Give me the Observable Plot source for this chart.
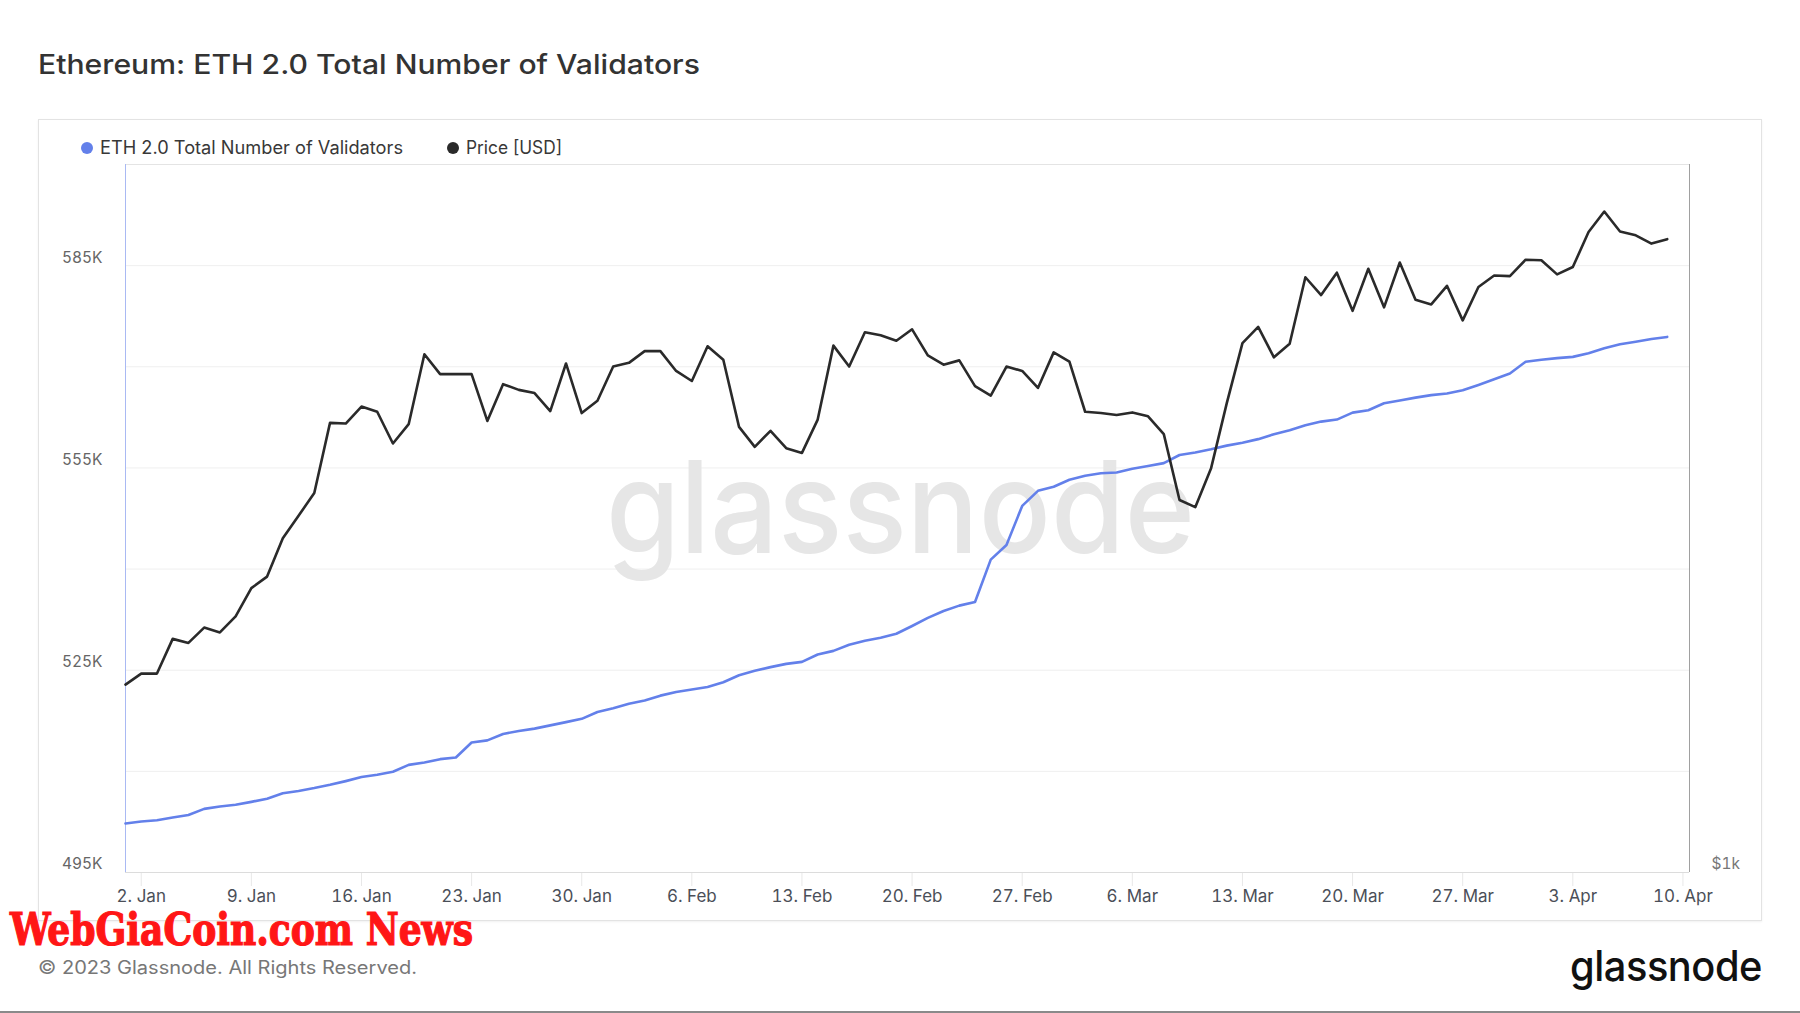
<!DOCTYPE html>
<html><head><meta charset="utf-8">
<script src="https://cdn.jsdelivr.net/npm/d3@7"></script>
<script src="https://cdn.jsdelivr.net/npm/@observablehq/plot@0.6"></script>
<style>
html,body{margin:0;padding:0;background:#fff;}
#page{position:relative;width:1800px;height:1013px;overflow:hidden;font-family:Inter,"Noto Sans",sans-serif;background:#fff;}
#panel{position:absolute;left:38px;top:119px;width:1722px;height:800px;border:1px solid #e3e3e3;box-shadow:0 1px 2px rgba(0,0,0,0.06);}
#chart{position:absolute;left:0;top:0;}
.txt{position:absolute;white-space:nowrap;line-height:1;transform-origin:0 50%;}
#title{left:38px;top:51px;font-size:27px;font-weight:500;color:#333;}
.legend{top:139px;font-size:18px;color:#383838;display:flex;align-items:center;}
.dot{width:12px;height:12px;border-radius:50%;display:inline-block;margin-right:7px;}
.ltxt{display:inline-block;transform-origin:0 50%;}
#copy{left:38px;top:959px;font-size:18px;color:#777;}
#logo{left:1570px;top:945px;font-size:42px;font-weight:500;color:#111;letter-spacing:-0.5px;}
#wgc{left:10px;top:912px;line-height:0.8;font-family:"DejaVu Serif Condensed","DejaVu Serif",serif;font-weight:bold;font-size:45px;color:#ff1616;-webkit-text-stroke:1.2px #ff1616;}
#bottomline{position:absolute;left:0;top:1011px;width:1800px;height:2px;background:#8a8a8a;}
</style>
</head><body>
<div id="page">
  <div id="panel"></div>
  <div id="chart"></div>
  <div id="title" class="txt"></div>
  <div id="leg1" class="txt legend" style="left:81px"><span class="dot" style="background:#6380ea"></span><span id="leg1t" class="ltxt"></span></div>
  <div id="leg2" class="txt legend" style="left:447px"><span class="dot" style="background:#2a2a2a"></span><span id="leg2t" class="ltxt"></span></div>
  <div id="wgc" class="txt">WebGiaCoin.com News</div>
  <div id="copy" class="txt">© 2023 Glassnode. All Rights Reserved.</div>
  <div id="logo" class="txt">glassnode</div>
  <div id="bottomline"></div>
</div>
<script>
// ---- data ----
const titleText = "Ethereum: ETH 2.0 Total Number of Validators";
const seriesNames = ["ETH 2.0 Total Number of Validators", "Price [USD]"];
const startDate = "2023-01-01";
const endDate = "2023-04-10T10:00Z";

const validators = [
  // Jan
  502270, 502570, 502750, 503170, 503530, 504440, 504800, 505040, 505470, 505950,
  506740, 507100, 507520, 508000, 508550, 509150, 509510, 509935, 510960, 511320,
  511810, 512050, 514280, 514590, 515550, 515975, 516340, 516820, 517300, 517790, 518810,
  // Feb
  519360, 520020, 520500, 521230, 521770, 522130, 522500, 523220, 524250, 524910,
  525460, 525940, 526240, 527330, 527870, 528780, 529380, 529810, 530410, 531560,
  532760, 533790, 534580, 535120, 541400, 543570, 549370, 551600,
  // Mar
  552210, 553240, 553840, 554200, 554320, 554870, 555290, 555710, 556920, 557280,
  557760, 558310, 558730, 559270, 560000, 560600, 561330, 561870, 562170, 563200,
  563560, 564590, 565010, 565430, 565800, 566040, 566520, 567310, 568150, 569000, 570750,
  // Apr
  571050, 571290, 571470, 572020, 572740, 573340, 573710, 574130, 574430
];

const prices = [
  // Jan
  1202, 1215, 1215, 1257, 1252, 1271, 1265, 1285, 1321, 1336,
  1387, 1418, 1450, 1553, 1552, 1578, 1570, 1522, 1551, 1661,
  1629, 1629, 1629, 1556, 1613, 1604, 1599, 1571, 1646, 1568, 1587,
  // Feb
  1641, 1647, 1666, 1666, 1634, 1618, 1674, 1652, 1547, 1517,
  1541, 1515, 1508, 1558, 1675, 1641, 1697, 1692, 1683, 1702,
  1659, 1644, 1651, 1610, 1595, 1641, 1634, 1607,
  // Mar
  1664, 1649, 1570, 1568, 1565, 1569, 1563, 1536, 1440, 1430,
  1485, 1583, 1679, 1706, 1656, 1678, 1791, 1760, 1799, 1733,
  1806, 1739, 1817, 1752, 1744, 1776, 1717, 1774, 1794, 1793, 1822,
  // Apr
  1821, 1796, 1809, 1872, 1910, 1873, 1866, 1851, 1859
];

const yDomain = [495000, 600000];
const yGridTicks = [495000, 510000, 525000, 540000, 555000, 570000, 585000, 600000];
const yLabelTicks = [495000, 525000, 555000, 585000];
const priceDomain = [1000, 2000];       // log scale of the right axis
const priceTicks = [1000];
const priceTickLabels = ["$1k"];
const xTickDates = ["2023-01-02","2023-01-09","2023-01-16","2023-01-23","2023-01-30","2023-02-06",
  "2023-02-13","2023-02-20","2023-02-27","2023-03-06","2023-03-13","2023-03-20","2023-03-27",
  "2023-04-03","2023-04-10"];
const monthNames = ["Jan","Feb","Mar","Apr","May","Jun","Jul","Aug","Sep","Oct","Nov","Dec"];

// ---- build ----
const colors = {validators: "#6380ea", price: "#2a2a2a"};
const t0 = new Date(startDate + "T00:00Z");
const xDomain = [t0, new Date(endDate)];
// map price (log scale) onto the shared y domain
const priceToY = p => yDomain[0] + (Math.log(p / priceDomain[0]) / Math.log(priceDomain[1] / priceDomain[0])) * (yDomain[1] - yDomain[0]);
const rows = validators.map((v, i) => ({date: d3.utcDay.offset(t0, i), v, py: priceToY(prices[i])}));
const xTicks = xTickDates.map(s => new Date(s + "T00:00Z"));

document.getElementById("title").textContent = titleText;
document.getElementById("leg1t").textContent = seriesNames[0];
document.getElementById("leg2t").textContent = seriesNames[1];

const chart = Plot.plot({
  width: 1800, height: 930,
  marginLeft: 125, marginRight: 111, marginTop: 164, marginBottom: 58,
  style: {background: "transparent", fontFamily: "Inter, sans-serif", overflow: "visible"},
  x: {type: "utc", domain: xDomain, label: null},
  y: {domain: yDomain, label: null},
  marks: [
    Plot.gridY(yGridTicks, {stroke: "#efefef", strokeOpacity: 1}),
    Plot.text(["glassnode"], {text: d => d, frameAnchor: "middle", dx: -7, dy: -6, fontSize: 128, fill: "#e6e6e6", fontWeight: 500}),
    Plot.ruleY([yDomain[1]], {stroke: "#e4e4e4"}),
    Plot.axisX({ticks: xTicks, tickFormat: d => `${d.getUTCDate()}. ${monthNames[d.getUTCMonth()]}`,
      tickSize: 14, tickPadding: 3, stroke: "#e8e8e8", fill: "#4b4f58", fontSize: 17, label: null}),
    Plot.ruleY([yDomain[0]], {stroke: "#dcdcdc"}),
    Plot.axisY({ticks: yLabelTicks, tickFormat: d => d / 1000 + "K", anchor: "left", tickSize: 0,
      tickPadding: 23, dy: -8, fill: "#666", fontSize: 15.5, label: null}),
    Plot.axisY({ticks: priceTicks.map(priceToY), tickFormat: (d, i) => priceTickLabels[i], anchor: "right", tickSize: 0,
      tickPadding: 22, dy: -8, fill: "#777", fontSize: 15.5, label: null}),
    Plot.ruleX([xDomain[0]], {stroke: "#a9b9f3"}),
    Plot.ruleX([xDomain[1]], {stroke: "#a0a0a0"}),
    Plot.line(rows, {x: "date", y: "v", stroke: colors.validators, strokeWidth: 2.6}),
    Plot.line(rows, {x: "date", y: "py", stroke: colors.price, strokeWidth: 2.6})
  ]
});
document.getElementById("chart").appendChild(chart);

// fit watermark width
const wm = [...chart.querySelectorAll("text")].find(t => t.textContent === "glassnode");
if (wm) { wm.setAttribute("textLength", 589); wm.setAttribute("lengthAdjust", "spacingAndGlyphs"); }

// fit a few texts to their measured widths
function fit(id, w) {
  const el = document.getElementById(id);
  const r = el.getBoundingClientRect().width;
  if (r > 0) el.style.transform = `scaleX(${w / r})`;
}
fit("title", 662); fit("copy", 379); fit("logo", 192); fit("wgc", 463);
fit("leg1t", 303); fit("leg2t", 96);
</script>
</body></html>
